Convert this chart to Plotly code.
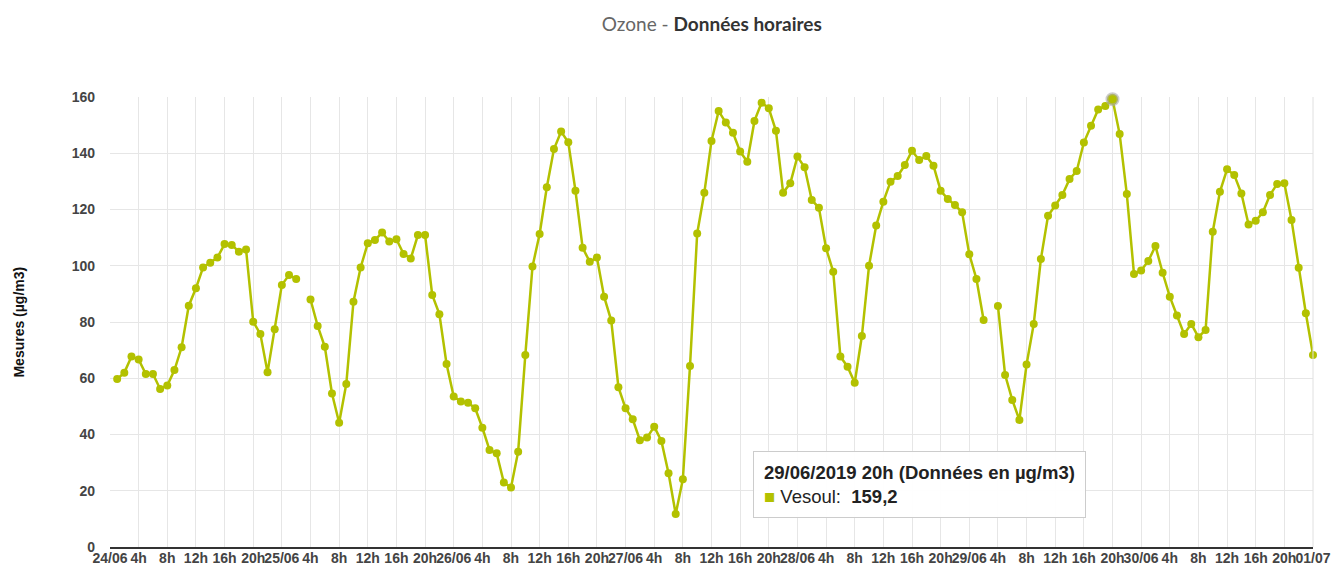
import plotly.graph_objects as go

# Hours since 24/06 00h (French "hour ending" convention: 1..168)
hours = list(range(1, 169))
vesoul = [
    59.7, 62.0, 67.7, 66.7, 61.5, 61.5, 56.2, 57.4, 62.9, 71.0, 85.8, 92.0,
    99.4, 101.1, 102.9, 107.7, 107.4, 105.0, 105.8, 80.1, 75.7, 62.1, 77.4, 93.2,
    96.7, 95.3, None, 88.0, 78.6, 71.2, 54.6, 44.2, 58.0, 87.2, 99.4, 108.0,
    109.2, 111.8, 108.6, 109.4, 104.2, 102.6, 110.9, 110.9, 89.6, 82.8, 65.1, 53.5,
    51.7, 51.3, 49.3, 42.4, 34.5, 33.3, 22.9, 21.2, 33.9, 68.3, 99.7, 111.3,
    127.9, 141.5, 147.7, 143.9, 126.7, 106.4, 101.4, 102.9, 89.0, 80.5, 56.8, 49.3,
    45.4, 38.0, 38.9, 42.8, 37.7, 26.2, 11.7, 24.1, 64.4, 111.5, 126.0, 144.4,
    155.0, 150.9, 147.3, 140.6, 137.0, 151.5, 158.0, 156.0, 148.0, 126.0, 129.3, 138.8,
    135.0, 123.4, 120.6, 106.2, 97.9, 67.7, 64.1, 58.4, 75.0, 100.0, 114.3, 122.8,
    129.9, 131.9, 135.8, 140.9, 137.6, 139.0, 135.6, 126.7, 123.7, 121.6, 119.0, 104.1,
    95.3, 80.7, None, 85.7, 61.2, 52.3, 45.2, 64.9, 79.3, 102.4, 117.8, 121.4,
    125.2, 130.8, 133.7, 143.8, 149.8, 155.6, 156.8, 159.2, 146.8, 125.5, 97.1, 98.3,
    101.7, 107.0, 97.5, 89.0, 82.3, 75.7, 79.3, 74.6, 77.2, 112.1, 126.3, 134.3,
    132.3, 125.7, 114.7, 116.0, 119.0, 125.2, 129.1, 129.3, 116.3, 99.3, 83.1, 68.3,
]
days = ["24/06", "25/06", "26/06", "27/06", "28/06", "29/06", "30/06", "01/07"]
tick_hours = list(range(0, 169, 4))
tick_labels = [days[h // 24] if h % 24 == 0 else f"{h % 24}h" for h in tick_hours]
y_ticks = [0, 20, 40, 60, 80, 100, 120, 140, 160]

hover_index = 139  # 29/06/2019 20h
hover_label = "29/06/2019 20h (Données en µg/m3)"
series_name = "Vesoul"

green = "#b3c100"

fig = go.Figure()
fig.add_trace(go.Scatter(
    x=hours, y=vesoul, mode="lines+markers", name=series_name,
    line=dict(color=green, width=2.5),
    marker=dict(color=green, size=8),
    connectgaps=False, hoverinfo="skip", cliponaxis=False,
))
fig.add_trace(go.Scatter(
    x=[hours[hover_index]], y=[vesoul[hover_index]], mode="markers",
    marker=dict(color=green, size=11, line=dict(color="rgba(170,170,170,0.6)", width=3)),
    hoverinfo="skip", showlegend=False, cliponaxis=False,
))

fig.update_layout(
    width=1333, height=572,
    margin=dict(l=110, r=20, t=97, b=25, autoexpand=False),
    paper_bgcolor="white", plot_bgcolor="white",
    showlegend=False,
    title=dict(
        text="<span style='color:#666'>Ozone - </span><b>Données horaires</b>",
        x=0.534, xanchor="center", y=0.958, yanchor="middle",
        font=dict(family="Lato, Open Sans, sans-serif", size=19, color="#333"),
    ),
    font=dict(family="Liberation Sans, Arial, sans-serif"),
)
fig.update_xaxes(
    range=[0, 168], tickvals=tick_hours, ticktext=tick_labels,
    showgrid=True, gridcolor="#e6e6e6", gridwidth=1,
    showline=True, linecolor="#333", linewidth=2,
    ticks="", zeroline=False, automargin=False,
    ticklabelstandoff=-3,
    tickfont=dict(family="Liberation Sans, Arial", size=14, color="#444", weight="bold"),
    tickangle=0,
)
fig.update_yaxes(
    range=[0, 160], tickvals=y_ticks,
    showgrid=True, gridcolor="#e6e6e6", gridwidth=1,
    zeroline=False, showline=False, ticks="", automargin=False,
    ticklabelstandoff=14,
    tickfont=dict(family="Liberation Sans, Arial", size=14, color="#444", weight="bold"),
)
# right border line
fig.add_shape(type="line", xref="paper", yref="paper", x0=1, x1=1, y0=0, y1=1,
              line=dict(color="#e0e0e0", width=1))

fig.add_annotation(
    xref="paper", yref="paper", x=-0.076, y=0.5, xanchor="center", yanchor="middle",
    text="<b>Mesures (µg/m3)</b>", textangle=-90, showarrow=False,
    font=dict(family="Liberation Sans, Arial", size=14, color="#111"),
)
fig.add_annotation(
    xref="paper", yref="paper", x=0.5345, y=0.2133, xanchor="left", yanchor="top",
    text=(f"<b>{hover_label}</b><br>"
          f"<span style='color:{green}'>■</span> {series_name}:  <b>{str(vesoul[hover_index]).replace('.', ',')}</b>"),
    align="left", showarrow=False,
    bgcolor="rgba(255,255,255,0.96)", bordercolor="#cccccc", borderwidth=1, borderpad=10,
    font=dict(family="Liberation Sans, Arial", size=18.5, color="#222"),
)

fig.write_html("out.html", config={"displayModeBar": False},
               post_script="document.body.style.margin='0';")
